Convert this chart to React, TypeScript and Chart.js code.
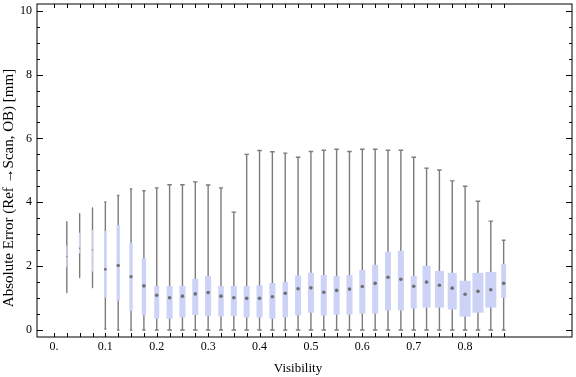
import React, { useEffect, useRef } from 'react';
import { Chart, registerables } from 'chart.js';

Chart.register(...registerables);

// ---- data ----
const visibility = [
  0.025, 0.05, 0.075, 0.1, 0.125, 0.15, 0.175, 0.2, 0.225, 0.25, 0.275, 0.3,
  0.325, 0.35, 0.375, 0.4, 0.425, 0.45, 0.475, 0.5, 0.525, 0.55, 0.575, 0.6,
  0.625, 0.65, 0.675, 0.7, 0.725, 0.75, 0.775, 0.8, 0.825, 0.85, 0.875,
];
const whiskerLow = [
  1.17, 1.64, 1.33, 0.03, 0, 0, 0, 0, 0, 0, 0, 0, 0, 0, 0, 0, 0, 0, 0, 0, 0, 0,
  0, 0, 0, 0, 0, 0, 0, 0, 0, 0, 0, 0, 0,
];
const quartile1 = [
  1.96, 2.4, 1.83, 1.02, 0.92, 0.6, 0.46, 0.35, 0.35, 0.39, 0.47, 0.44, 0.42,
  0.44, 0.39, 0.39, 0.35, 0.4, 0.46, 0.54, 0.45, 0.48, 0.48, 0.51, 0.51, 0.61,
  0.61, 0.67, 0.7, 0.7, 0.64, 0.42, 0.54, 0.7, 1.01,
];
const median = [
  2.3, 2.56, 2.51, 1.9, 2.02, 1.67, 1.38, 1.09, 1.01, 1.06, 1.13, 1.17, 1.06,
  1.01, 0.99, 0.99, 1.04, 1.15, 1.29, 1.32, 1.18, 1.24, 1.28, 1.36, 1.46, 1.65,
  1.59, 1.37, 1.5, 1.4, 1.31, 1.12, 1.21, 1.26, 1.46,
];
const quartile3 = [
  2.64, 3.05, 3.13, 3.1, 3.29, 2.73, 2.25, 1.38, 1.38, 1.38, 1.6, 1.69, 1.38,
  1.38, 1.38, 1.4, 1.47, 1.5, 1.71, 1.79, 1.72, 1.69, 1.72, 1.88, 2.04, 2.45,
  2.48, 1.69, 2.01, 1.85, 1.79, 1.54, 1.79, 1.82, 2.07,
];
const whiskerHigh = [
  3.39, 3.64, 3.82, 4.01, 4.21, 4.42, 4.36, 4.45, 4.55, 4.55, 4.64, 4.54, 4.45,
  3.69, 5.5, 5.62, 5.58, 5.54, 5.41, 5.59, 5.63, 5.66, 5.59, 5.66, 5.66, 5.63,
  5.63, 5.41, 5.07, 5.01, 4.67, 4.5, 4.03, 3.41, 2.81,
];
// relative sample size of each bin (box width is proportional to it)
const relativeSampleSize = [
  0.12, 0.12, 0.12, 0.25, 0.3, 0.3, 0.39, 0.45, 0.55, 0.55, 0.55, 0.55, 0.5,
  0.55, 0.55, 0.55, 0.55, 0.5, 0.55, 0.55, 0.55, 0.55, 0.55, 0.55, 0.55, 0.55,
  0.55, 0.55, 0.73, 0.82, 0.82, 1, 1, 1, 0.45,
];

const xTickValues = [
  0, 0.025, 0.05, 0.075, 0.1, 0.125, 0.15, 0.175, 0.2, 0.225, 0.25, 0.275, 0.3,
  0.325, 0.35, 0.375, 0.4, 0.425, 0.45, 0.475, 0.5, 0.525, 0.55, 0.575, 0.6,
  0.625, 0.65, 0.675, 0.7, 0.725, 0.75, 0.775, 0.8, 0.825, 0.85, 0.875,
];
const xLabelValues = [0, 0.1, 0.2, 0.3, 0.4, 0.5, 0.6, 0.7, 0.8];
const xLabelTexts = ['0.', '0.1', '0.2', '0.3', '0.4', '0.5', '0.6', '0.7', '0.8'];
const yMajorTicks = [0, 2, 4, 6, 8, 10];
const yMinorStep = 0.5;

const xTitle = 'Visibility';
const yTitle = 'Absolute Error (Ref \u2192Scan, OB) [mm]';

// ---- styles ----
const FONT = "'Liberation Serif', 'Times New Roman', serif";
const BOX_FILL = '#ccd3f6';
const WHISKER = '#7c7c7c';
const MEDIAN_COLOR = '#707070';
const MAX_BOX_W = 11;

const boxPlugin = {
  id: 'boxWhisker',
  beforeDatasetsDraw(chart: any) {
    const { ctx, scales } = chart;
    const x = scales.x;
    const y = scales.y;
    ctx.save();
    for (let i = 0; i < visibility.length; i++) {
      const px = x.getPixelForValue(visibility[i]);
      const w = relativeSampleSize[i] * MAX_BOX_W;
      const yLo = y.getPixelForValue(whiskerLow[i]);
      const yHi = y.getPixelForValue(whiskerHigh[i]);
      const yQ1 = y.getPixelForValue(quartile1[i]);
      const yQ3 = y.getPixelForValue(quartile3[i]);
      ctx.strokeStyle = WHISKER;
      ctx.lineWidth = 1.4;
      ctx.beginPath();
      ctx.moveTo(px, yLo);
      ctx.lineTo(px, yHi);
      const cap = Math.min(4.5, w * 0.75) / 2;
      ctx.moveTo(px - cap, yLo);
      ctx.lineTo(px + cap, yLo);
      ctx.moveTo(px - cap, yHi);
      ctx.lineTo(px + cap, yHi);
      ctx.stroke();
      ctx.fillStyle = BOX_FILL;
      ctx.fillRect(px - w / 2, yQ3, w, yQ1 - yQ3);
    }
    ctx.restore();
  },
  afterDraw(chart: any) {
    const { ctx, chartArea, scales } = chart;
    const x = scales.x;
    const y = scales.y;
    const { left, right, top, bottom } = chartArea;
    ctx.save();
    ctx.strokeStyle = '#000';
    ctx.lineWidth = 1;
    ctx.strokeRect(left, top, right - left, bottom - top);
    ctx.beginPath();
    for (const v of xTickValues) {
      const px = Math.round(x.getPixelForValue(v)) + 0.5;
      ctx.moveTo(px, bottom);
      ctx.lineTo(px, bottom - 4);
      ctx.moveTo(px, top);
      ctx.lineTo(px, top + 4);
    }
    const yMin = Math.ceil(y.min / yMinorStep) * yMinorStep;
    for (let v = yMin; v <= y.max + 1e-9; v += yMinorStep) {
      const isMajor = yMajorTicks.some((m) => Math.abs(m - v) < 1e-6);
      const len = isMajor ? 6 : 3;
      const py = Math.round(y.getPixelForValue(v)) + 0.5;
      ctx.moveTo(left, py);
      ctx.lineTo(left + len, py);
      ctx.moveTo(right, py);
      ctx.lineTo(right - len, py);
    }
    ctx.stroke();

    ctx.fillStyle = '#000';
    ctx.font = `13px ${FONT}`;
    ctx.textAlign = 'center';
    ctx.textBaseline = 'alphabetic';
    ctx.fillText(xTitle, 298, 372);

    ctx.translate(13, 188);
    ctx.rotate(-Math.PI / 2);
    ctx.font = `15px ${FONT}`;
    ctx.fillText(yTitle, 0, 0);
    ctx.restore();
  },
};

export default function App() {
  const canvasRef = useRef<HTMLCanvasElement | null>(null);

  useEffect(() => {
    if (!canvasRef.current) return;
    const chart = new Chart(canvasRef.current, {
      type: 'scatter',
      data: {
        datasets: [
          {
            label: 'Median',
            data: visibility.map((v, i) => ({ x: v, y: median[i] })),
            pointStyle: 'circle',
            pointRadius: (c: any) =>
              Math.min(1.8, (relativeSampleSize[c.dataIndex] * MAX_BOX_W) / 2),
            pointBackgroundColor: MEDIAN_COLOR,
            pointBorderWidth: 0,
            showLine: false,
          } as any,
        ],
      },
      options: {
        animation: false,
        responsive: false,
        devicePixelRatio: 1,
        layout: { padding: { top: 4, right: 1, left: 0, bottom: 0 } },
        plugins: { legend: { display: false }, tooltip: { enabled: false } },
        events: [],
        scales: {
          x: {
            type: 'linear',
            min: -0.033,
            max: 1.008,
            grid: { display: false, drawTicks: false },
            border: { display: false },
            afterBuildTicks: (s: any) => {
              s.ticks = xTickValues.map((v) => ({ value: v }));
            },
            afterFit: (s: any) => {
              s.height = 40;
              s.paddingLeft = 0;
              s.paddingRight = 0;
            },
            ticks: {
              autoSkip: false,
              maxRotation: 0,
              minRotation: 0,
              padding: 3,
              color: '#000',
              font: { family: FONT, size: 12 },
              callback: (value: any) => {
                const idx = xLabelValues.findIndex(
                  (l) => Math.abs(l - Number(value)) < 1e-6
                );
                return idx >= 0 ? xLabelTexts[idx] : '';
              },
            },
          },
          y: {
            type: 'linear',
            min: -0.22,
            max: 10.21,
            grid: { display: false, drawTicks: false },
            border: { display: false },
            afterBuildTicks: (s: any) => {
              s.ticks = yMajorTicks.map((v) => ({ value: v }));
            },
            afterFit: (s: any) => {
              s.width = 37;
              s.paddingTop = 0;
              s.paddingBottom = 0;
            },
            ticks: {
              autoSkip: false,
              padding: 5,
              color: '#000',
              font: { family: FONT, size: 12 },
              callback: (value: any) => String(value),
            },
          },
        },
      } as any,
      plugins: [boxPlugin],
    });
    return () => chart.destroy();
  }, []);

  return (
    <div style={{ position: 'fixed', left: 0, top: 0, width: 576, height: 377, background: '#fff' }}>
      <canvas ref={canvasRef} width={576} height={377} style={{ display: 'block' }} />
    </div>
  );
}
